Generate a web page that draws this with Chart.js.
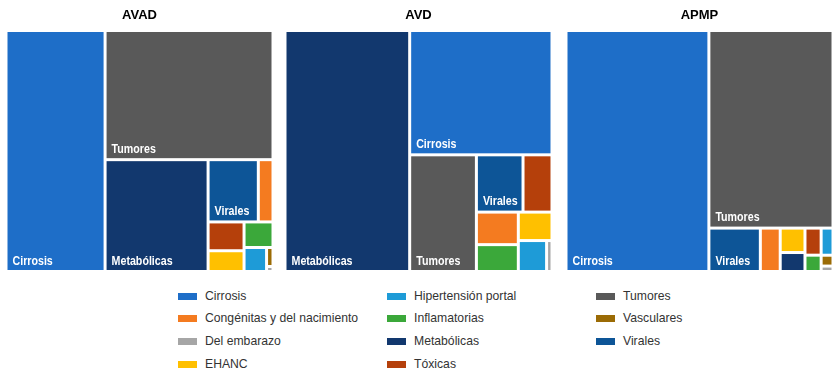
<!DOCTYPE html>
<html lang="es">
<head>
    <meta charset="UTF-8">
    <title>Treemap AVAD AVD APMP</title>
    <style>
        body { margin: 0; background: #fff; width: 838px; height: 376px; position: relative; overflow: hidden; }
        .panel { position: absolute; top: 0; width: 267px; height: 273px; }
        .leg { position: absolute; font: 12.2px "Liberation Sans", Arial, sans-serif; color: #333; white-space: nowrap; }
        .sw { position: absolute; width: 19px; height: 7px; }
    </style>
</head>
<body>
    <div class="panel" style="left:5.5px"><canvas id="c0"></canvas></div>
    <div class="panel" style="left:284.5px"><canvas id="c1"></canvas></div>
    <div class="panel" style="left:565.5px"><canvas id="c2"></canvas></div>
    <div id="legend"></div>

    <script src="https://cdn.jsdelivr.net/npm/chart.js"></script>
    <script>
        // categories, in legend order
        const categories = ['Cirrosis', 'Congénitas y del nacimiento', 'Del embarazo', 'EHANC',
            'Hipertensión portal', 'Inflamatorias', 'Metabólicas', 'Tóxicas', 'Tumores', 'Vasculares', 'Virales']
        const colors = ['#1e6ec8', '#f47b20', '#a6a6a6', '#ffc000', '#1e9bd7', '#3ba83a',
            '#12386e', '#b5400b', '#595959', '#9b6b05', '#0d5597']

        // share of each panel (%)
        const avad = [37.1, 1.42, 0.05, 1.16, 0.84, 1.15, 17.9, 1.61, 33.7, 0.19, 4.86]
        const avd = [27.5, 2.12, 0.26, 1.49, 1.36, 1.75, 46.7, 2.58, 12.1, 0, 4.15]
        const apmp = [53.5, 1.34, 0.10, 0.94, 0.50, 0.41, 0.73, 0.68, 38.1, 0.20, 3.47]
        const titles = ['AVAD', 'AVD', 'APMP']

        // how each treemap is split: 'h' = side by side, 'v' = stacked
        const avadTree = ['h', 'Cirrosis', ['v', 'Tumores', ['h', 'Metabólicas',
            ['v', ['h', 'Virales', 'Congénitas y del nacimiento'],
                ['h', ['v', 'Tóxicas', 'EHANC'],
                    ['v', 'Inflamatorias', ['h', 'Hipertensión portal', ['v', 'Vasculares', 'Del embarazo']]]]]]]]
        const avdTree = ['h', 'Metabólicas', ['v', 'Cirrosis', ['h', 'Tumores',
            ['v', ['h', 'Virales', 'Tóxicas'],
                ['h', ['v', 'Congénitas y del nacimiento', 'Inflamatorias'],
                    ['v', 'EHANC', ['h', 'Hipertensión portal', 'Del embarazo']]]]]]]
        const apmpTree = ['h', 'Cirrosis', ['v', 'Tumores',
            ['h', 'Virales', 'Congénitas y del nacimiento', ['v', 'EHANC', 'Metabólicas'],
                ['v', 'Tóxicas', 'Inflamatorias'], ['v', 'Hipertensión portal', 'Vasculares', 'Del embarazo']]]]

        // no narrow font installed: squeeze Liberation Sans bold instead
        const labelFont = "bold 13px 'Liberation Sans', Arial, sans-serif"
        const squeeze = 0.82

        function total(node, values) {
            if (typeof node === 'string') return values[categories.indexOf(node)]
            return node.slice(1).reduce((s, n) => s + total(n, values), 0)
        }

        // lay the tree out in data units (0..1 on both axes)
        function split(node, values, x0, y0, x1, y1, out) {
            if (typeof node === 'string') {
                out.push({ i: categories.indexOf(node), x0, y0, x1, y1 })
                return
            }
            const kids = node.slice(1)
            const sum = total(node, values)
            let pos = node[0] === 'h' ? x0 : y0
            kids.forEach(k => {
                const part = total(k, values) / sum
                if (node[0] === 'h') {
                    const end = pos + (x1 - x0) * part
                    split(k, values, pos, y0, end, y1, out)
                    pos = end
                } else {
                    const end = pos + (y1 - y0) * part
                    split(k, values, x0, pos, x1, end, out)
                    pos = end
                }
            })
        }

        const cellPlugin = {
            id: 'cells',
            afterDatasetsDraw(chart, args, opts) {
                const ctx = chart.ctx
                const x = chart.scales.x
                const y = chart.scales.y
                const rects = []
                split(opts.tree, opts.values, 0, 0, 1, 1, rects)
                ctx.save()
                rects.forEach(r => {
                    if (!opts.values[r.i]) return
                    const l = x.getPixelForValue(r.x0) + 1.5
                    const rt = x.getPixelForValue(r.x1) - 1.5
                    const t = y.getPixelForValue(r.y0) + 1.5
                    const b = y.getPixelForValue(r.y1) - 1.5
                    if (rt - l < 0.5 || b - t < 0.5) return
                    ctx.fillStyle = colors[r.i]
                    ctx.fillRect(l, t, rt - l, b - t)
                    ctx.font = labelFont
                    const w = ctx.measureText(categories[r.i]).width * squeeze
                    if (w + 6 <= rt - l && b - t >= 24) {
                        ctx.save()
                        ctx.fillStyle = '#fff'
                        ctx.textBaseline = 'alphabetic'
                        ctx.translate(l + 5, b - 5.5)
                        ctx.scale(squeeze, 1)
                        ctx.fillText(categories[r.i], 0, 0)
                        ctx.restore()
                    }
                })
                ctx.restore()
            }
        }

        const panels = [[avad, avadTree], [avd, avdTree], [apmp, apmpTree]]
        panels.forEach((p, k) => {
            new Chart(document.getElementById('c' + k), {
                type: 'scatter',
                data: { datasets: [{ data: [] }] },
                options: {
                    responsive: true,
                    maintainAspectRatio: false,
                    animation: false,
                    layout: { padding: { top: 0, bottom: 1.5, left: 0, right: 0 } },
                    scales: {
                        x: { type: 'linear', min: 0, max: 1, display: false },
                        y: { type: 'linear', min: 0, max: 1, reverse: true, display: false }
                    },
                    plugins: {
                        legend: { display: false },
                        tooltip: { enabled: false },
                        title: {
                            display: true,
                            text: titles[k],
                            color: '#000',
                            font: { family: "'Liberation Sans', Arial, sans-serif", size: 13, weight: 'bold' },
                            padding: { top: 7.5, bottom: 7.4 }
                        },
                        cells: { values: p[0], tree: p[1] }
                    }
                },
                plugins: [cellPlugin]
            })
        })

        // legend: three columns, four rows
        const legend = document.getElementById('legend')
        const colX = [178, 387, 596]
        categories.forEach((c, i) => {
            const col = Math.floor(i / 4)
            const row = i % 4
            const cy = 296 + row * 22.7
            const sw = document.createElement('div')
            sw.className = 'sw'
            sw.style.left = colX[col] + 'px'
            sw.style.top = (cy - 3.5) + 'px'
            sw.style.background = colors[i]
            legend.appendChild(sw)
            const tx = document.createElement('div')
            tx.className = 'leg'
            tx.textContent = c
            tx.style.left = (colX[col] + 27) + 'px'
            tx.style.top = (cy - 7.5) + 'px'
            legend.appendChild(tx)
        })
    </script>
</body>
</html>
